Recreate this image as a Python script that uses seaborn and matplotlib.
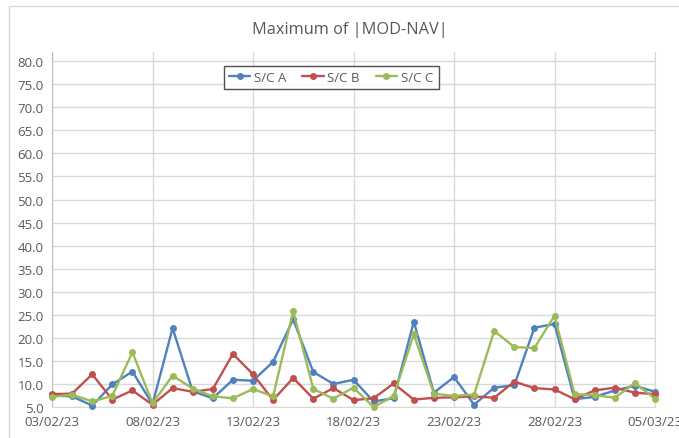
import pandas as pd
import seaborn as sns
import matplotlib.pyplot as plt
import matplotlib.dates as mdates
from matplotlib.patches import Rectangle

# daily values, 03/02/23 .. 05/03/23
dates = pd.date_range("2023-02-03", "2023-03-05", freq="D")
sc_a = [7.5, 7.3, 5.3, 9.9, 12.7, 5.6, 22.1, 8.4, 6.9, 10.9,
        10.7, 14.8, 24.0, 12.6, 10.0, 10.9, 6.2, 6.9, 23.5, 8.1,
        11.5, 5.5, 9.2, 9.7, 22.2, 23.0, 6.7, 7.2, 8.6, 9.6, 8.3]
sc_b = [7.8, 7.9, 12.1, 6.6, 8.6, 5.5, 9.1, 8.3, 8.9, 16.5,
        12.1, 6.5, 11.3, 6.8, 9.1, 6.5, 6.9, 10.1, 6.6, 7.0,
        7.1, 7.3, 7.0, 10.5, 9.1, 8.8, 6.7, 8.6, 9.2, 8.1, 7.8]
sc_c = [7.2, 7.7, 6.2, 7.4, 16.9, 5.8, 11.8, 9.0, 7.3, 6.9,
        8.9, 7.3, 25.8, 8.9, 6.8, 9.2, 5.0, 7.4, 20.8, 7.9,
        7.4, 7.7, 21.5, 18.0, 17.8, 24.8, 7.8, 7.6, 7.0, 10.2, 6.8]
series_names = ["S/C A", "S/C B", "S/C C"]
colors = ["#4F81BD", "#C0504D", "#9BBB59"]

df = pd.DataFrame({
    "date": list(dates) * 3,
    "value": sc_a + sc_b + sc_c,
    "craft": [n for n in series_names for _ in dates],
})

sns.set_style("white")
plt.rcParams["font.family"] = ["Open Sans", "DejaVu Sans"]

fig = plt.figure(figsize=(6.79, 4.39), dpi=100)
ax = fig.add_axes([52 / 679, 1 - 408 / 439, 603 / 679, 355 / 439])

# outer chart frame
fig.patches.append(Rectangle((9 / 679, -0.05), 1.0, 1 - 7 / 439 + 0.05,
                             transform=fig.transFigure, fill=False,
                             edgecolor="#D9D9D9", linewidth=1.0))

sns.lineplot(data=df, x="date", y="value", hue="craft", palette=colors,
             marker="o", markersize=5, markeredgewidth=0, linewidth=1.7,
             ax=ax, clip_on=False, zorder=3)

ax.set_xlim(dates[0], dates[-1])
ax.set_ylim(5, 82)
ax.set_yticks([5 + 5 * i for i in range(16)])
ax.yaxis.set_major_formatter(plt.FuncFormatter(lambda v, p: f"{v:.1f}"))
ax.set_xticks(dates[::5])
ax.xaxis.set_major_formatter(mdates.DateFormatter("%d/%m/%y"))
ax.grid(True, color="#D9D9D9", linewidth=1.0)
ax.tick_params(length=0, labelsize=9.5, colors="#595959", pad=6)
ax.set_xlabel("")
ax.set_ylabel("")
for side in ["top", "right"]:
    ax.spines[side].set_visible(False)
ax.spines["left"].set_color("#BFBFBF")
ax.spines["bottom"].set_color("#D9D9D9")
ax.spines["right"].set_visible(True)
ax.spines["right"].set_color("#D9D9D9")

fig.text(350 / 679, 1 - 30 / 439, "Maximum of |MOD-NAV|", ha="center",
         va="center", fontsize=11.8, color="#595959")

leg = ax.legend(loc="center", bbox_to_anchor=(0.463, 0.928), ncol=3,
                frameon=True, fancybox=False, fontsize=9.5, handlelength=1.6,
                handletextpad=0.3, columnspacing=1.2, borderpad=0.4)
leg.get_frame().set_edgecolor("#262626")
leg.get_frame().set_linewidth(1.0)
for t in leg.get_texts():
    t.set_color("#595959")

fig.savefig("out.png", dpi=100)
